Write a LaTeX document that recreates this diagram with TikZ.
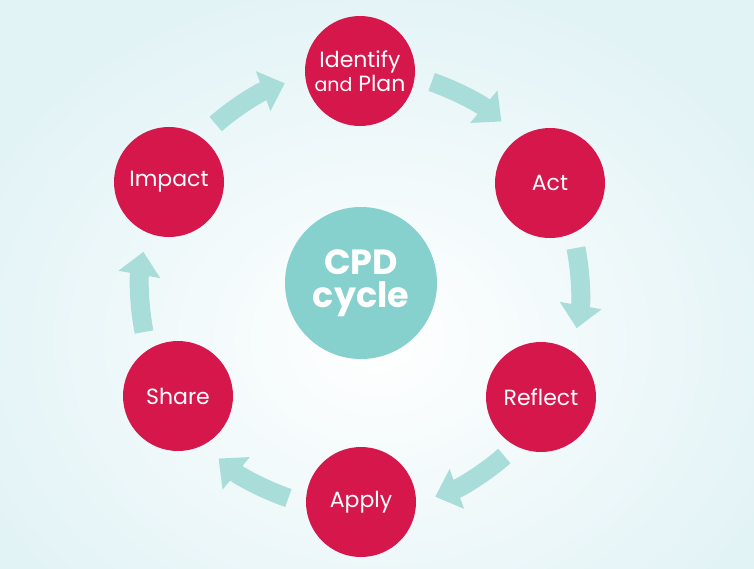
\documentclass[tikz,border=0pt]{standalone}
\usepackage{fontspec}
\setmainfont{Poppins}
\usetikzlibrary{arrows.meta,calc}
\definecolor{crimson}{HTML}{D6174C}
\definecolor{tealc}{HTML}{86D0CD}
\definecolor{arrowc}{HTML}{A9DDDA}
\definecolor{bgblue}{HTML}{E2F3F6}
\tikzset{
  stage/.style={circle, fill=crimson, minimum size=110pt, inner sep=0pt, text=white, font=\fontsize{22}{24}\selectfont, align=center},
  hub/.style={circle, fill=tealc, minimum size=152pt, inner sep=0pt, text=white, font=\fontsize{35}{33}\selectfont\bfseries, align=center},
  flow/.style={line width=19pt, color=arrowc, -{Triangle[width=41pt,length=23pt]}}
}
\begin{document}
\begin{tikzpicture}[x=1pt,y=-1pt]
\useasboundingbox (0,0) rectangle (754,568);
\shade[inner color=white, middle color=white, outer color=bgblue] (-60,-20) rectangle (814,700);
\coordinate (c) at (360,290);
\node[stage] (identify) at (360,71) {Identify\\{\fontsize{19}{22}\selectfont and} Plan};
\node[stage] (act) at (550,183) {Act};
\node[stage] (reflect) at (541,397) {Reflect};
\node[stage] (apply) at (361,502) {Apply};
\node[stage] (share) at (178,396) {Share};
\node[stage] (impact) at (169,182) {Impact};
\node[hub] (cpd) at (361,283) {CPD\\cycle};
\foreach \a in {120,60,0,-60,-120,180}{
  \draw[flow] ($(c)+({-\a-11}:220)$) arc[start angle=-\a-11, end angle=-\a+10, radius=220];
}
\end{tikzpicture}
\end{document}
